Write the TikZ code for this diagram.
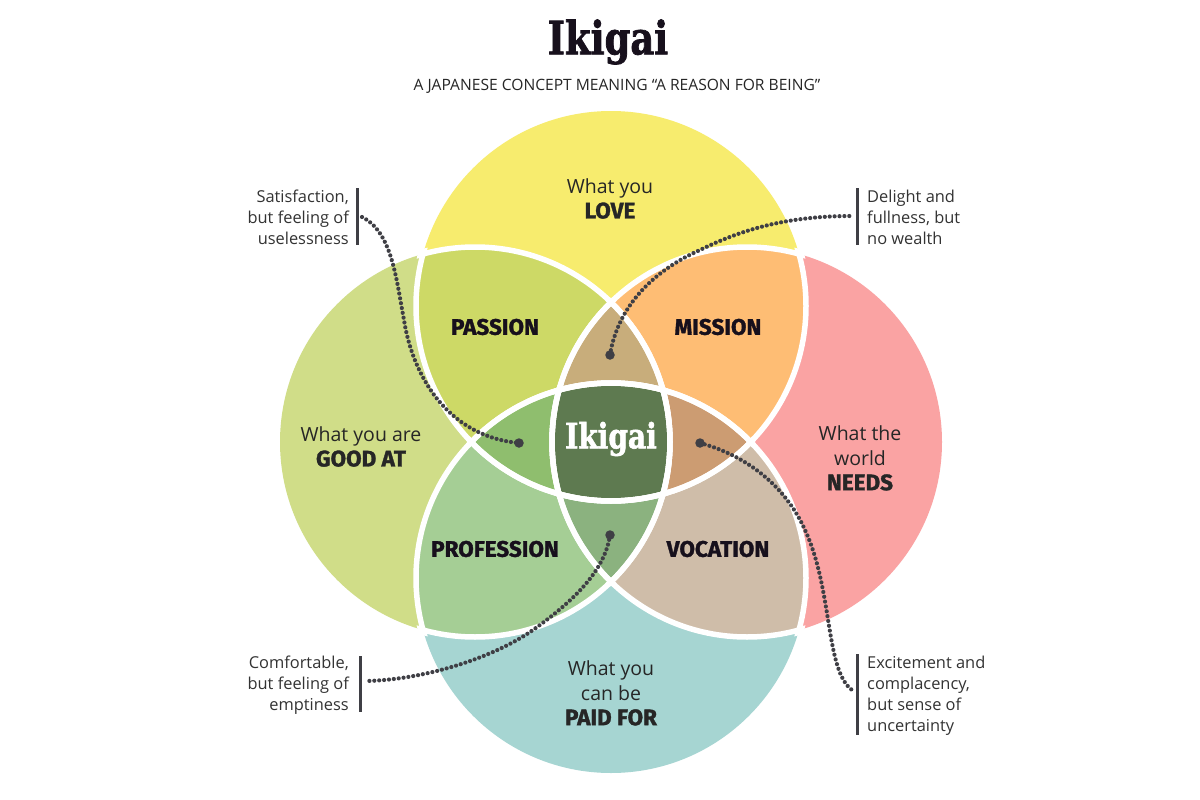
\documentclass[tikz,border=0pt]{standalone}
\usepackage{fontspec}
\setmainfont{Open Sans}
\newfontfamily\heavy[FakeBold=1.4]{Fira Sans}[BoldFont=*,UprightFont=* Bold]
\newfontfamily\slab[FakeBold=1.6,FakeStretch=0.89]{DejaVu Serif Condensed Bold}
\definecolor{cT}{HTML}{F7EC6E}\definecolor{cL}{HTML}{D0DD88}\definecolor{cR}{HTML}{FAA3A3}\definecolor{cB}{HTML}{A6D5D2}
\definecolor{cTL}{HTML}{CDD966}\definecolor{cTR}{HTML}{FEBD74}\definecolor{cBL}{HTML}{A5CE95}\definecolor{cBR}{HTML}{CFBDA9}
\definecolor{cTLR}{HTML}{C8AD7B}\definecolor{cTBL}{HTML}{8FBE6E}\definecolor{cTBR}{HTML}{CC9C72}\definecolor{cBLR}{HTML}{8BB27F}\definecolor{cAll}{HTML}{5E7A50}
\definecolor{ink}{HTML}{17101C}\definecolor{dotc}{HTML}{3F3F45}
\newcommand{\hv}[1]{{\heavy\fontsize{22.5}{25}\selectfont #1}}
\tikzset{
 body/.style={font=\fontsize{19.5}{25}\selectfont,text=black!85,align=center,inner sep=0pt},
 small/.style={font=\fontsize{16.4}{21}\selectfont,text=black!80,inner sep=0pt},
 lab/.style={font=\heavy\fontsize{22.5}{25}\selectfont,text=ink,inner sep=0pt,align=center},
 ringline/.style={draw=white,line width=5.5pt},
 lead/.style={draw=dotc,line width=4.2pt,line cap=round,dash pattern=on 0pt off 4.9pt},
 enddot/.style={circle,fill=dotc,minimum size=9.5pt,inner sep=0pt},
 bar/.style={draw=dotc,line width=3pt},
}
\def\cT{(611,306) circle (195)}
\def\cB{(611,578) circle (195)}
\def\cL{(475,442) circle (195)}
\def\cR{(747,442) circle (195)}
% clip discs a little wider than the circles: the white lines run just past each crossing
\def\xT{(611,306) circle (200)}
\def\xB{(611,578) circle (200)}
\def\xL{(475,442) circle (200)}
\def\xR{(747,442) circle (200)}
\begin{document}
\begin{tikzpicture}[x=1pt,y=-1pt]
\useasboundingbox (0,0) rectangle (1200,800);
\fill[white] (0,0) rectangle (1200,800);
\fill[cT] \cT; \fill[cL] \cL; \fill[cR] \cR; \fill[cB] \cB;
\begin{scope}\clip \cT; \fill[cTL] \cL; \fill[cTR] \cR; \end{scope}
\begin{scope}\clip \cB; \fill[cBL] \cL; \fill[cBR] \cR; \end{scope}
\begin{scope}\clip \cT; \clip \cL; \fill[cTLR] \cR; \end{scope}
\begin{scope}\clip \cB; \clip \cL; \fill[cBLR] \cR; \end{scope}
\begin{scope}\clip \cT; \clip \cB; \fill[cTBL] \cL; \end{scope}
\begin{scope}\clip \cT; \clip \cB; \fill[cTBR] \cR; \end{scope}
\begin{scope}\clip \cT; \clip \cB; \clip \cL; \fill[cAll] \cR; \end{scope}
\begin{scope}\clip \xL; \draw[ringline] \cT; \draw[ringline] \cB; \draw[ringline] \cR; \end{scope}
\begin{scope}\clip \xR; \draw[ringline] \cT; \draw[ringline] \cB; \draw[ringline] \cL; \end{scope}
\begin{scope}\clip \xT; \draw[ringline] \cL; \draw[ringline] \cR; \draw[ringline] \cB; \end{scope}
\begin{scope}\clip \xB; \draw[ringline] \cL; \draw[ringline] \cR; \draw[ringline] \cT; \end{scope}

\node[font=\slab\fontsize{46}{50}\selectfont,text=ink,inner sep=0pt] (title) at (608,42) {Ikigai};
\node[font=\fontsize{15.6}{18}\selectfont,text=black!85,inner sep=0pt] (sub) at (617,86) {A JAPANESE CONCEPT MEANING “A REASON FOR BEING”};

\node[body] (love) at (610,198.7) {What you\\[0pt]\hv{LOVE}};
\node[body] (good) at (361,446.7) {What you are\\[0pt]\hv{GOOD AT}};
\node[body] (needs) at (860,458) {What the\\world\\\hv{NEEDS}};
\node[body] (paid) at (611,693) {What you\\can be\\\hv{PAID FOR}};
\node[lab] (passion) at (495,327) {PASSION};
\node[lab] (mission) at (718,327) {MISSION};
\node[lab] (profession) at (495,549) {PROFESSION};
\node[lab] (vocation) at (718,549) {VOCATION};
\node[font=\slab\fontsize{35}{38}\selectfont,text=white,inner sep=0pt] (centre) at (611,439) {Ikigai};

\node[small,align=right,anchor=east] (tl) at (349,217) {Satisfaction,\\but feeling of\\uselessness};
\node[small,align=left,anchor=west] (tr) at (867,217) {Delight and\\fullness, but\\no wealth};
\node[small,align=right,anchor=east] (bl) at (349,685.2) {Comfortable,\\but feeling of\\emptiness};
\node[small,align=left,anchor=west] (br) at (867,696.2) {Excitement and\\complacency,\\but sense of\\uncertainty};

\coordinate (btlA) at (357,188); \coordinate (btlB) at (357,245);
\coordinate (btrA) at (857,188); \coordinate (btrB) at (857,245);
\coordinate (bblA) at (360,656); \coordinate (bblB) at (360,712);
\coordinate (bbrA) at (857,654); \coordinate (bbrB) at (857,735);
\draw[bar] (btlA) -- (btlB); \draw[bar] (btrA) -- (btrB);
\draw[bar] (bblA) -- (bblB); \draw[bar] (bbrA) -- (bbrB);

\node[enddot] (d1) at (519,443) {};
\node[enddot] (d2) at (610,355) {};
\node[enddot] (d3) at (700,443) {};
\node[enddot] (d4) at (610,535) {};
\coordinate (e1) at (362,217);
\coordinate (e2) at (852,216);
\coordinate (e3) at (852,690);
\coordinate (e4) at (366,681);
\draw[lead] (e1) .. controls (392,232) and (396,278) .. (404,320) .. controls (412,372) and (445,436) .. (d1.center);
\draw[lead] (d2.center) .. controls (618,305) and (655,270) .. (700,250) .. controls (745,228) and (790,216) .. (e2);
\draw[lead] (d3.center) .. controls (745,455) and (785,485) .. (805,530) .. controls (833,590) and (825,670) .. (e3);
\draw[lead] (d4.center) .. controls (605,570) and (575,600) .. (533,630) .. controls (490,660) and (420,680) .. (e4);
\end{tikzpicture}
\end{document}
